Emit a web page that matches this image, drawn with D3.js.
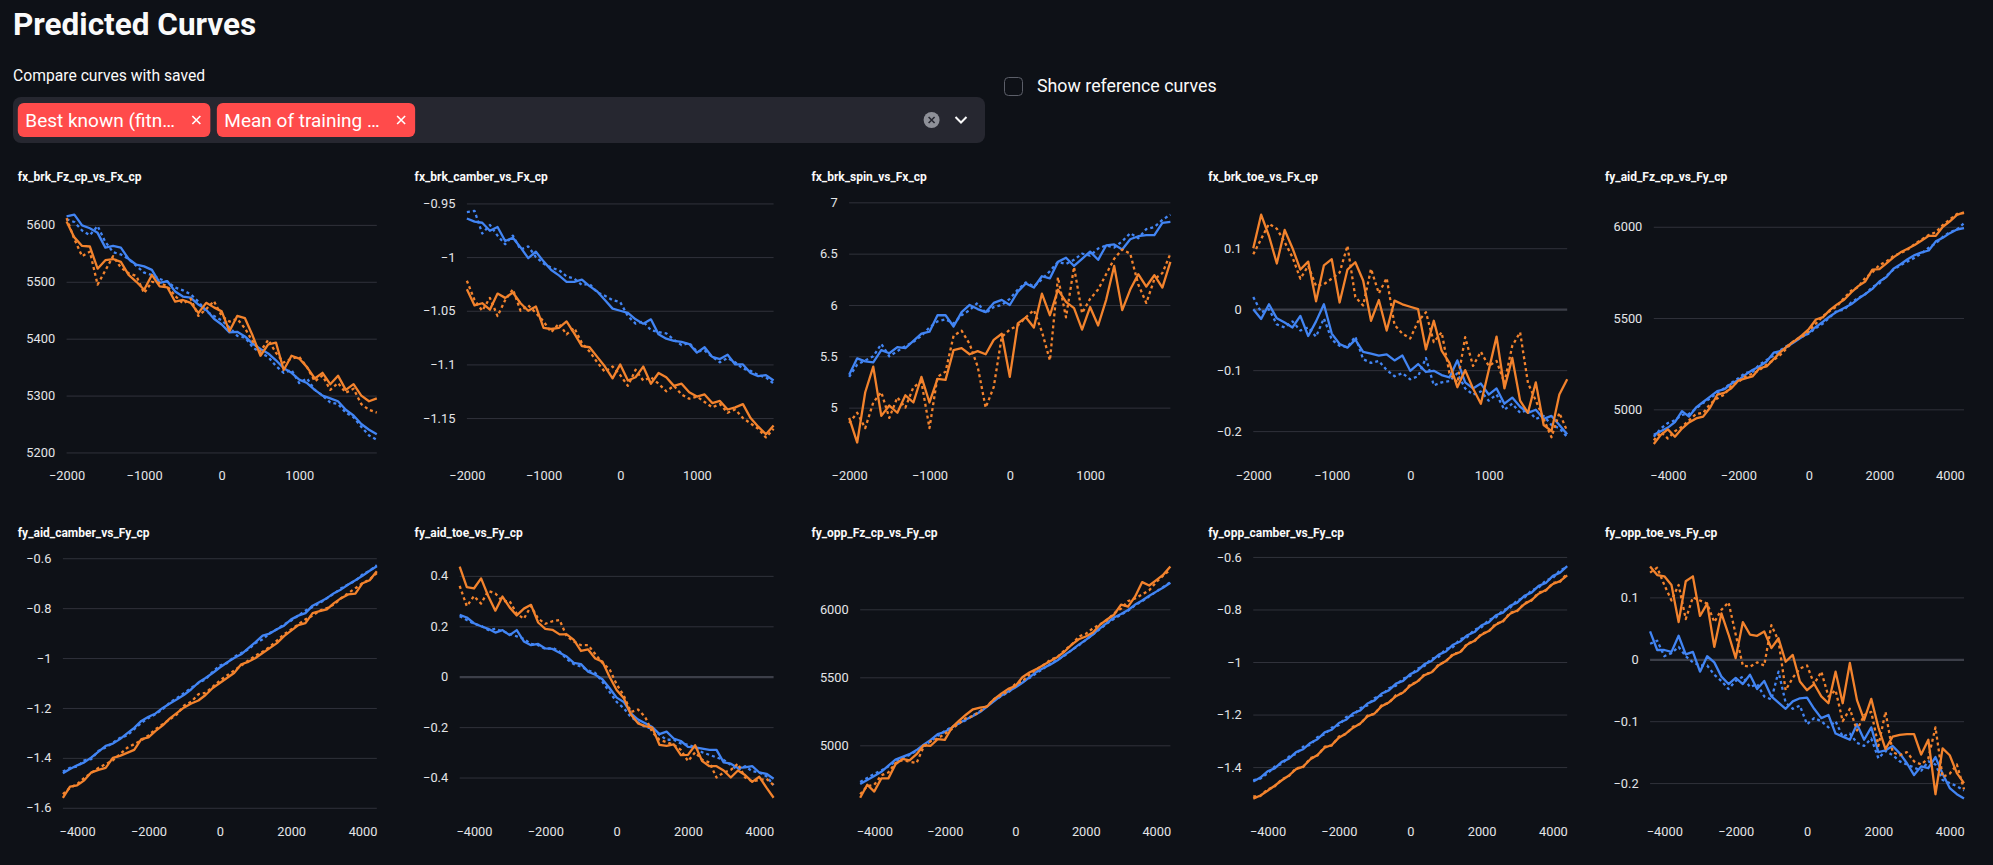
<!DOCTYPE html>
<html>
<head>
<meta charset="utf-8">
<script src="https://cdn.jsdelivr.net/npm/d3@7"></script>
<style>
html, body { margin: 0; padding: 0; background: #0e1117; }
svg { display: block; }
</style>
</head>
<body>
<svg id="page" width="1993" height="865"></svg>
<script>
// ---- data ----
const xsFx = [-2000, -1900, -1800, -1700, -1600, -1500, -1400, -1300, -1200, -1100, -1000,
  -900, -800, -700, -600, -500, -400, -300, -200, -100, 0,
  100, 200, 300, 400, 500, 600, 700, 800, 900, 1000,
  1100, 1200, 1300, 1400, 1500, 1600, 1700, 1800, 1900, 2000];
const xsFy = [-4400, -4200, -4000, -3800, -3600, -3400, -3200, -3000, -2800,
  -2600, -2400, -2200, -2000, -1800, -1600, -1400, -1200, -1000,
  -800, -600, -400, -200, 0, 200, 400, 600, 800,
  1000, 1200, 1400, 1600, 1800, 2000, 2200, 2400, 2600,
  2800, 3000, 3200, 3400, 3600, 3800, 4000, 4200, 4400];
const fxTicks = [-2000, -1000, 0, 1000];
const fyTicks = [-4000, -2000, 0, 2000, 4000];

const savedSelections = ["Best known (fitn\u2026", "Mean of training \u2026"];

// fx_brk_Fz_cp_vs_Fx_cp
const fzBrkBlue = [5615, 5618, 5599, 5594, 5586, 5560, 5563, 5560, 5540, 5530, 5527,
  5521, 5498, 5501, 5483, 5474, 5472, 5460, 5451, 5435, 5425,
  5411, 5412, 5404, 5391, 5382, 5374, 5362, 5348, 5340, 5328,
  5322, 5310, 5300, 5295, 5290, 5275, 5265, 5250, 5240, 5232];
const fzBrkBlueDot = [5610, 5605, 5590, 5582, 5598, 5570, 5552, 5548, 5540, 5528, 5516,
  5512, 5505, 5500, 5490, 5485, 5478, 5465, 5448, 5440, 5432,
  5420, 5405, 5402, 5385, 5375, 5368, 5352, 5340, 5345, 5322,
  5330, 5310, 5300, 5288, 5285, 5270, 5262, 5245, 5230, 5222];
const fzBrkOrange = [5606, 5578, 5563, 5562, 5523, 5538, 5540, 5535, 5512, 5500, 5486,
  5512, 5492, 5490, 5465, 5468, 5463, 5445, 5463, 5455, 5448,
  5413, 5440, 5436, 5405, 5370, 5390, 5393, 5345, 5370, 5365,
  5350, 5330, 5340, 5320, 5335, 5310, 5320, 5300, 5290, 5295];
const fzBrkOrangeDot = [5612, 5575, 5545, 5553, 5495, 5520, 5545, 5525, 5515, 5510, 5480,
  5500, 5498, 5492, 5475, 5462, 5470, 5440, 5452, 5466, 5440,
  5430, 5435, 5418, 5395, 5378, 5398, 5375, 5358, 5365, 5368,
  5350, 5325, 5335, 5310, 5322, 5305, 5312, 5285, 5275, 5270];

// fx_brk_camber_vs_Fx_cp
const camBrkBlue = [-0.964, -0.967, -0.968, -0.9755, -0.972, -0.985, -0.982, -0.991, -1.001, -0.995, -1.004,
  -1.012, -1.017, -1.023, -1.023, -1.021, -1.027, -1.032, -1.040, -1.048, -1.050,
  -1.052, -1.058, -1.062, -1.058, -1.072, -1.076, -1.078, -1.079, -1.081, -1.089,
  -1.084, -1.093, -1.095, -1.091, -1.100, -1.100, -1.108, -1.111, -1.110, -1.115];
const camBrkBlueDot = [-0.958, -0.957, -0.978, -0.970, -0.980, -0.988, -0.980, -0.993, -0.990, -1.000, -1.006,
  -1.010, -1.012, -1.018, -1.020, -1.026, -1.025, -1.033, -1.036, -1.040, -1.042,
  -1.055, -1.062, -1.060, -1.068, -1.070, -1.071, -1.077, -1.082, -1.080, -1.088,
  -1.087, -1.093, -1.098, -1.094, -1.098, -1.104, -1.106, -1.110, -1.112, -1.118];
const camBrkOrange = [-1.030, -1.045, -1.043, -1.049, -1.034, -1.038, -1.033, -1.043, -1.050, -1.046, -1.066,
  -1.067, -1.066, -1.060, -1.071, -1.083, -1.084, -1.093, -1.102, -1.113, -1.100,
  -1.115, -1.112, -1.102, -1.118, -1.108, -1.112, -1.120, -1.118, -1.126, -1.130,
  -1.128, -1.136, -1.134, -1.142, -1.140, -1.137, -1.150, -1.158, -1.165, -1.157];
const camBrkOrangeDot = [-1.022, -1.040, -1.050, -1.038, -1.055, -1.040, -1.030, -1.050, -1.045, -1.052, -1.060,
  -1.070, -1.062, -1.072, -1.066, -1.080, -1.088, -1.098, -1.107, -1.102, -1.110,
  -1.120, -1.105, -1.115, -1.112, -1.118, -1.125, -1.120, -1.128, -1.132, -1.130,
  -1.135, -1.140, -1.137, -1.145, -1.142, -1.150, -1.155, -1.160, -1.168, -1.160];

// fx_brk_spin_vs_Fx_cp
const spinBrkBlue = [5.32, 5.48, 5.45, 5.44, 5.56, 5.53, 5.59, 5.58, 5.65, 5.72, 5.74,
  5.90, 5.90, 5.79, 5.93, 6.00, 5.96, 5.93, 6.02, 6.05, 6.00,
  6.13, 6.21, 6.17, 6.28, 6.26, 6.42, 6.46, 6.38, 6.45, 6.52,
  6.44, 6.58, 6.59, 6.54, 6.64, 6.67, 6.68, 6.68, 6.80, 6.81];
const spinBrkBlueDot = [5.30, 5.42, 5.46, 5.50, 5.62, 5.50, 5.55, 5.60, 5.64, 5.70, 5.78,
  5.84, 5.86, 5.82, 5.90, 5.95, 6.02, 5.92, 5.98, 6.00, 6.06,
  6.15, 6.22, 6.18, 6.25, 6.33, 6.42, 6.40, 6.44, 6.50, 6.48,
  6.55, 6.58, 6.56, 6.62, 6.70, 6.65, 6.74, 6.76, 6.83, 6.88];
const spinBrkOrange = [4.90, 4.66, 5.15, 5.40, 4.92, 5.02, 4.95, 5.12, 5.05, 5.30, 5.05,
  5.28, 5.27, 5.56, 5.58, 5.52, 5.55, 5.52, 5.66, 5.72, 5.30,
  5.82, 5.88, 5.78, 6.11, 5.90, 6.15, 6.03, 5.97, 5.76, 5.98,
  5.80, 6.05, 6.38, 5.95, 6.15, 6.30, 6.18, 6.29, 6.17, 6.42];
const spinBrkOrangeDot = [4.85, 4.95, 4.80, 5.05, 5.15, 4.90, 5.10, 5.00, 5.20, 5.25, 4.80,
  5.30, 5.35, 5.70, 5.75, 5.62, 5.40, 5.00, 5.20, 5.69, 5.76,
  5.80, 5.88, 5.95, 5.74, 5.46, 6.27, 5.88, 6.37, 5.92, 6.06,
  6.15, 6.30, 6.45, 6.54, 6.50, 6.20, 6.02, 6.25, 6.31, 6.50];

// fx_brk_toe_vs_Fx_cp
const toeBrkBlue = [0.0, -0.016, 0.008, -0.015, -0.022, -0.03, -0.011, -0.044, -0.02, 0.008, -0.04,
  -0.057, -0.063, -0.05, -0.07, -0.073, -0.076, -0.074, -0.084, -0.076, -0.101,
  -0.09, -0.103, -0.101, -0.108, -0.112, -0.084, -0.12, -0.13, -0.122, -0.14,
  -0.13, -0.155, -0.145, -0.16, -0.17, -0.165, -0.18, -0.175, -0.19, -0.205];
const toeBrkBlueDot = [0.02, -0.005, 0.0, -0.025, -0.03, -0.02, -0.035, -0.03, -0.045, -0.015, -0.05,
  -0.06, -0.062, -0.045, -0.082, -0.088, -0.085, -0.1, -0.11, -0.105, -0.115,
  -0.11, -0.08, -0.125, -0.12, -0.118, -0.105, -0.13, -0.14, -0.135, -0.15,
  -0.14, -0.165, -0.155, -0.17, -0.165, -0.18, -0.175, -0.19, -0.195, -0.21];
const toeBrkOrange = [0.10, 0.155, 0.12, 0.075, 0.13, 0.10, 0.065, 0.078, 0.013, 0.072, 0.082,
  0.011, 0.065, 0.077, 0.047, -0.019, 0.015, -0.035, 0.014, 0.008, 0.004,
  0.0, -0.066, -0.019, -0.068, -0.088, -0.128, -0.10, -0.13, -0.155, -0.10,
  -0.045, -0.13, -0.08, -0.15, -0.17, -0.12, -0.19, -0.2, -0.14, -0.115];
const toeBrkOrangeDot = [0.09, 0.115, 0.14, 0.132, 0.11, 0.085, 0.05, 0.071, 0.038, 0.041, 0.05,
  0.06, 0.104, 0.02, 0.006, 0.066, 0.026, 0.051, -0.026, -0.04, -0.048,
  -0.02, -0.005, -0.054, -0.038, -0.105, -0.121, -0.046, -0.093, -0.07, -0.093,
  -0.085, -0.121, -0.06, -0.038, -0.121, -0.15, -0.18, -0.21, -0.17, -0.2];

// fy_aid_Fz_cp_vs_Fy_cp
const fzAidBlue = [4860, 4880, 4900, 4930, 4990, 4960, 5010, 5040, 5070,
  5100, 5110, 5140, 5160, 5190, 5215, 5235, 5262, 5310,
  5320, 5345, 5370, 5396, 5420, 5452, 5480, 5510, 5535,
  5555, 5575, 5605, 5632, 5660, 5700, 5725, 5770, 5795,
  5822, 5845, 5860, 5870, 5920, 5940, 5965, 5985, 5992];
const fzAidBlueDot = [4850, 4895, 4925, 4940, 4970, 4975, 5005, 5035, 5060,
  5090, 5115, 5145, 5170, 5200, 5205, 5245, 5270, 5295,
  5325, 5350, 5375, 5400, 5415, 5445, 5470, 5505, 5540,
  5545, 5585, 5610, 5630, 5670, 5690, 5730, 5765, 5790,
  5810, 5830, 5855, 5885, 5910, 5945, 5970, 5985, 6020];
const fzAidOrange = [4810, 4860, 4890, 4850, 4895, 4928, 4950, 4960, 5010,
  5080, 5090, 5115, 5158, 5170, 5180, 5225, 5235, 5275,
  5315, 5348, 5375, 5405, 5440, 5492, 5505, 5545, 5575,
  5600, 5640, 5675, 5700, 5765, 5768, 5800, 5832, 5860,
  5880, 5900, 5925, 5950, 5950, 6000, 6030, 6065, 6079];
const fzAidOrangeDot = [4830, 4875, 4840, 4880, 4905, 4940, 4975, 4980, 5030,
  5060, 5080, 5130, 5150, 5180, 5195, 5215, 5245, 5270,
  5300, 5340, 5380, 5395, 5430, 5470, 5510, 5540, 5565,
  5610, 5650, 5670, 5720, 5750, 5790, 5810, 5840, 5855,
  5875, 5905, 5930, 5955, 5970, 6010, 6040, 6070, 6075];

// fy_aid_camber_vs_Fy_cp
const camAidBlue = [-1.462, -1.445, -1.43, -1.418, -1.398, -1.375, -1.352, -1.343, -1.325,
  -1.302, -1.28, -1.252, -1.235, -1.222, -1.2, -1.182, -1.165, -1.147,
  -1.125, -1.098, -1.08, -1.06, -1.038, -1.018, -1.0, -0.985, -0.96,
  -0.936, -0.91, -0.902, -0.885, -0.87, -0.845, -0.83, -0.82, -0.79,
  -0.775, -0.76, -0.74, -0.725, -0.705, -0.688, -0.67, -0.65, -0.632];
const camAidBlueDot = [-1.455, -1.44, -1.435, -1.41, -1.405, -1.372, -1.358, -1.34, -1.32,
  -1.31, -1.285, -1.26, -1.24, -1.225, -1.205, -1.178, -1.16, -1.14,
  -1.12, -1.1, -1.085, -1.055, -1.03, -1.02, -0.995, -0.98, -0.965,
  -0.94, -0.925, -0.9, -0.885, -0.865, -0.85, -0.83, -0.81, -0.795,
  -0.78, -0.76, -0.742, -0.72, -0.705, -0.69, -0.665, -0.65, -0.628];
const camAidOrange = [-1.56, -1.515, -1.51, -1.49, -1.458, -1.448, -1.44, -1.40, -1.392,
  -1.38, -1.368, -1.325, -1.318, -1.292, -1.27, -1.242, -1.22, -1.198,
  -1.182, -1.17, -1.148, -1.12, -1.1, -1.08, -1.06, -1.025, -1.015,
  -1.0, -0.98, -0.96, -0.94, -0.912, -0.89, -0.868, -0.86, -0.82,
  -0.812, -0.805, -0.78, -0.76, -0.745, -0.742, -0.70, -0.688, -0.652];
const camAidOrangeDot = [-1.545, -1.52, -1.505, -1.48, -1.46, -1.44, -1.425, -1.41, -1.385,
  -1.36, -1.345, -1.33, -1.31, -1.285, -1.265, -1.245, -1.225, -1.19,
  -1.175, -1.145, -1.14, -1.115, -1.09, -1.07, -1.05, -1.03, -1.01,
  -0.99, -0.975, -0.955, -0.93, -0.905, -0.885, -0.865, -0.845, -0.83,
  -0.81, -0.8, -0.785, -0.76, -0.74, -0.72, -0.7, -0.685, -0.66];

// fy_aid_toe_vs_Fy_cp
const toeAidBlue = [0.245, 0.235, 0.212, 0.2, 0.19, 0.175, 0.185, 0.165, 0.185,
  0.14, 0.125, 0.13, 0.112, 0.11, 0.095, 0.08, 0.055, 0.05,
  0.02, 0.008, -0.01, -0.045, -0.083, -0.1, -0.145, -0.17, -0.185,
  -0.2, -0.228, -0.218, -0.245, -0.255, -0.278, -0.28, -0.285, -0.29,
  -0.29, -0.34, -0.345, -0.362, -0.36, -0.355, -0.38, -0.385, -0.405];
const toeAidBlueDot = [0.24, 0.225, 0.21, 0.202, 0.185, 0.19, 0.18, 0.17, 0.16,
  0.15, 0.13, 0.125, 0.11, 0.115, 0.1, 0.07, 0.05, 0.04,
  0.025, 0.015, -0.02, -0.06, -0.1, -0.125, -0.16, -0.18, -0.2,
  -0.205, -0.23, -0.25, -0.25, -0.265, -0.27, -0.28, -0.3, -0.31,
  -0.32, -0.33, -0.35, -0.37, -0.355, -0.375, -0.38, -0.395, -0.43];
const toeAidOrange = [0.437, 0.355, 0.35, 0.39, 0.32, 0.262, 0.318, 0.275, 0.243,
  0.27, 0.285, 0.215, 0.19, 0.186, 0.168, 0.168, 0.146, 0.102,
  0.108, 0.072, 0.06, 0.0, -0.053, -0.085, -0.15, -0.185, -0.196,
  -0.202, -0.27, -0.274, -0.268, -0.311, -0.31, -0.272, -0.335, -0.355,
  -0.355, -0.372, -0.4, -0.372, -0.39, -0.417, -0.397, -0.44, -0.48];
const toeAidOrangeDot = [0.36, 0.28, 0.32, 0.29, 0.34, 0.33, 0.3, 0.3, 0.25,
  0.23, 0.28, 0.23, 0.21, 0.22, 0.225, 0.16, 0.14, 0.125,
  0.125, 0.09, 0.055, 0.03, -0.03, -0.075, -0.14, -0.13, -0.16,
  -0.22, -0.25, -0.26, -0.27, -0.29, -0.335, -0.3, -0.33, -0.34,
  -0.4, -0.38, -0.37, -0.345, -0.4, -0.415, -0.41, -0.405, -0.43];

// fy_opp_Fz_cp_vs_Fy_cp
const fzOppBlue = [4715, 4745, 4775, 4805, 4850, 4895, 4915, 4935, 4965,
  5005, 5040, 5082, 5098, 5130, 5162, 5190, 5215, 5245,
  5285, 5325, 5365, 5395, 5425, 5460, 5500, 5540, 5568,
  5595, 5625, 5665, 5700, 5740, 5775, 5815, 5860, 5900,
  5940, 5965, 5995, 6035, 6065, 6100, 6130, 6160, 6195];
const fzOppBlueDot = [4730, 4760, 4790, 4815, 4845, 4880, 4905, 4930, 4960,
  4995, 5030, 5070, 5105, 5135, 5160, 5185, 5220, 5250,
  5290, 5330, 5360, 5390, 5430, 5465, 5495, 5530, 5565,
  5600, 5630, 5660, 5700, 5735, 5775, 5815, 5855, 5895,
  5930, 5960, 5990, 6030, 6060, 6095, 6130, 6165, 6200];
const fzOppOrange = [4615, 4710, 4660, 4757, 4757, 4860, 4900, 4890, 4935,
  5000, 4997, 5045, 5040, 5130, 5180, 5225, 5265, 5277,
  5285, 5340, 5380, 5415, 5435, 5500, 5535, 5560, 5590,
  5620, 5650, 5690, 5740, 5780, 5800, 5830, 5885, 5925,
  5960, 6035, 6020, 6095, 6200, 6175, 6215, 6255, 6314];
const fzOppOrangeDot = [4640, 4700, 4710, 4780, 4800, 4870, 4890, 4880, 4870,
  4990, 5030, 5050, 5085, 5120, 5160, 5200, 5215, 5250,
  5290, 5340, 5370, 5400, 5450, 5470, 5520, 5560, 5590,
  5630, 5650, 5700, 5740, 5800, 5820, 5860, 5890, 5920,
  5970, 6005, 6060, 6080, 6110, 6140, 6200, 6250, 6290];

// fy_opp_camber_vs_Fy_cp
const camOppBlue = [-1.455, -1.440, -1.416, -1.405, -1.380, -1.368, -1.343, -1.332, -1.308,
  -1.294, -1.268, -1.258, -1.232, -1.220, -1.195, -1.184, -1.158, -1.146,
  -1.120, -1.108, -1.082, -1.072, -1.046, -1.034, -1.008, -0.996, -0.972,
  -0.960, -0.934, -0.922, -0.898, -0.886, -0.860, -0.849, -0.822, -0.812,
  -0.786, -0.774, -0.748, -0.736, -0.710, -0.699, -0.672, -0.660, -0.635];
const camOppBlueDot = [-1.450, -1.444, -1.424, -1.398, -1.388, -1.360, -1.350, -1.322, -1.315,
  -1.286, -1.275, -1.250, -1.240, -1.210, -1.203, -1.175, -1.165, -1.137,
  -1.127, -1.100, -1.090, -1.063, -1.053, -1.025, -1.015, -0.987, -0.980,
  -0.950, -0.943, -0.913, -0.905, -0.877, -0.867, -0.840, -0.830, -0.803,
  -0.793, -0.765, -0.755, -0.727, -0.717, -0.690, -0.680, -0.650, -0.640];
const camOppOrange = [-1.520, -1.508, -1.490, -1.471, -1.450, -1.432, -1.408, -1.398, -1.370,
  -1.354, -1.326, -1.316, -1.288, -1.272, -1.250, -1.234, -1.207, -1.196,
  -1.168, -1.154, -1.130, -1.116, -1.090, -1.074, -1.050, -1.039, -1.012,
  -0.996, -0.973, -0.962, -0.933, -0.919, -0.896, -0.882, -0.858, -0.844,
  -0.816, -0.804, -0.780, -0.764, -0.740, -0.726, -0.703, -0.692, -0.670];
const camOppOrangeDot = [-1.512, -1.510, -1.485, -1.474, -1.446, -1.434, -1.404, -1.400, -1.366,
  -1.356, -1.322, -1.318, -1.284, -1.274, -1.246, -1.236, -1.204, -1.198,
  -1.164, -1.156, -1.126, -1.118, -1.086, -1.076, -1.046, -1.040, -1.009,
  -0.998, -0.969, -0.964, -0.929, -0.921, -0.892, -0.884, -0.854, -0.846,
  -0.812, -0.806, -0.776, -0.766, -0.736, -0.728, -0.699, -0.694, -0.662];

// fy_opp_toe_vs_Fy_cp
const toeOppBlue = [0.045, 0.015, 0.015, 0.012, 0.038, 0.008, 0.012, -0.02, 0.005,
  -0.005, -0.028, -0.04, -0.03, -0.04, -0.025, -0.048, -0.035, -0.06,
  -0.07, -0.08, -0.068, -0.063, -0.062, -0.08, -0.095, -0.09, -0.12,
  -0.125, -0.13, -0.105, -0.13, -0.11, -0.15, -0.147, -0.14, -0.152,
  -0.168, -0.187, -0.173, -0.176, -0.158, -0.185, -0.208, -0.218, -0.225];
const toeOppBlueDot = [0.025, 0.03, 0.005, 0.01, 0.02, 0.005, -0.005, -0.01, -0.01,
  -0.025, -0.035, -0.048, -0.035, -0.028, -0.045, -0.04, -0.06, -0.065,
  -0.02, -0.07, -0.08, -0.075, -0.105, -0.095, -0.1, -0.11, -0.1,
  -0.125, -0.12, -0.135, -0.14, -0.128, -0.16, -0.148, -0.155, -0.165,
  -0.17, -0.175, -0.18, -0.165, -0.17, -0.195, -0.2, -0.205, -0.212];
const toeOppOrange = [0.15, 0.136, 0.134, 0.12, 0.06, 0.126, 0.134, 0.07, 0.09,
  0.02, 0.074, 0.04, 0.002, 0.06, 0.04, 0.038, 0.045, 0.018,
  0.034, -0.004, 0.007, -0.036, -0.05, -0.04, -0.06, -0.071, -0.02,
  -0.071, -0.006, -0.066, -0.098, -0.064, -0.11, -0.145, -0.125, -0.122,
  -0.121, -0.121, -0.154, -0.13, -0.218, -0.144, -0.155, -0.184, -0.2];
const toeOppOrangeDot = [0.14, 0.148, 0.12, 0.095, 0.12, 0.065, 0.1, 0.095, 0.09,
  0.06, 0.08, 0.092, 0.04, -0.01, -0.012, -0.005, -0.01, 0.055,
  0.03, -0.05, -0.03, -0.015, -0.01, -0.04, -0.02, -0.06, -0.05,
  -0.1, -0.08, -0.115, -0.09, -0.085, -0.14, -0.085, -0.15, -0.155,
  -0.15, -0.165, -0.17, -0.16, -0.11, -0.19, -0.185, -0.17, -0.21];

// ---- panel table built from the arrays above ----
const panels = [
  { title: "fx_brk_Fz_cp_vs_Fx_cp", xs: xsFx, xTicks: fxTicks, yTicks: [5200, 5300, 5400, 5500, 5600], yDomain: [5185, 5649],
    series: [fzBrkBlue, fzBrkBlueDot, fzBrkOrange, fzBrkOrangeDot] },
  { title: "fx_brk_camber_vs_Fx_cp", xs: xsFx, xTicks: fxTicks, yTicks: [-1.15, -1.1, -1.05, -1, -0.95], yDomain: [-1.19, -0.944],
    series: [camBrkBlue, camBrkBlueDot, camBrkOrange, camBrkOrangeDot] },
  { title: "fx_brk_spin_vs_Fx_cp", xs: xsFx, xTicks: fxTicks, yTicks: [5, 5.5, 6, 6.5, 7], yDomain: [4.48, 7.052],
    series: [spinBrkBlue, spinBrkBlueDot, spinBrkOrange, spinBrkOrangeDot] },
  { title: "fx_brk_toe_vs_Fx_cp", xs: xsFx, xTicks: fxTicks, yTicks: [-0.2, -0.1, 0, 0.1], yDomain: [-0.249, 0.184],
    series: [toeBrkBlue, toeBrkBlueDot, toeBrkOrange, toeBrkOrangeDot] },
  { title: "fy_aid_Fz_cp_vs_Fy_cp", xs: xsFy, xTicks: fyTicks, yTicks: [5000, 5500, 6000], yDomain: [4717, 6163],
    series: [fzAidBlue, fzAidBlueDot, fzAidOrange, fzAidOrangeDot] },
  { title: "fy_aid_camber_vs_Fy_cp", xs: xsFy, xTicks: fyTicks, yTicks: [-1.6, -1.4, -1.2, -1, -0.8, -0.6], yDomain: [-1.637, -0.579],
    series: [camAidBlue, camAidBlueDot, camAidOrange, camAidOrangeDot] },
  { title: "fy_aid_toe_vs_Fy_cp", xs: xsFy, xTicks: fyTicks, yTicks: [-0.4, -0.2, 0, 0.2, 0.4], yDomain: [-0.5565, 0.4907],
    series: [toeAidBlue, toeAidBlueDot, toeAidOrange, toeAidOrangeDot] },
  { title: "fy_opp_Fz_cp_vs_Fy_cp", xs: xsFy, xTicks: fyTicks, yTicks: [5000, 5500, 6000], yDomain: [4473, 6414],
    series: [fzOppBlue, fzOppBlueDot, fzOppOrange, fzOppOrangeDot] },
  { title: "fy_opp_camber_vs_Fy_cp", xs: xsFy, xTicks: fyTicks, yTicks: [-1.4, -1.2, -1, -0.8, -0.6], yDomain: [-1.59, -0.585],
    series: [camOppBlue, camOppBlueDot, camOppOrange, camOppOrangeDot] },
  { title: "fy_opp_toe_vs_Fy_cp", xs: xsFy, xTicks: fyTicks, yTicks: [-0.2, -0.1, 0, 0.1], yDomain: [-0.2548, 0.1717],
    series: [toeOppBlue, toeOppBlueDot, toeOppOrange, toeOppOrangeDot] }
];

// ---- drawing ----
const FONT = "'Source Sans Pro', Roboto, sans-serif";
const TEXT = "#fafafa";
const lineColors = ["#4285f4", "#4285f4", "#f3832d", "#f3832d"];
const lineDash = [null, "3,3", null, "3,3"];

const svg = d3.select("#page");
svg.append("rect").attr("width", 1993).attr("height", 865).attr("fill", "#0e1117");

// header
svg.append("text")
  .attr("x", 13).attr("y", 35)
  .attr("font-family", FONT).attr("font-size", 31.5).attr("font-weight", 700)
  .attr("fill", TEXT)
  .text("Predicted Curves");

svg.append("text")
  .attr("x", 13).attr("y", 81)
  .attr("font-family", FONT).attr("font-size", 15.7)
  .attr("fill", TEXT)
  .text("Compare curves with saved");

svg.append("rect")
  .attr("x", 13).attr("y", 97).attr("width", 972).attr("height", 46)
  .attr("rx", 8).attr("fill", "#262730");

let tagX = 17.8;
savedSelections.forEach(label => {
  const g = svg.append("g");
  const bg = g.append("rect").attr("y", 103).attr("height", 34).attr("rx", 6).attr("fill", "#ff4b4b");
  const t = g.append("text")
    .attr("x", tagX + 7.5).attr("y", 126.5)
    .attr("font-family", FONT).attr("font-size", 19)
    .attr("fill", "#ffffff").text(label);
  const tw = t.node().getComputedTextLength();
  const w = tw + 43;
  bg.attr("x", tagX).attr("width", w);
  const cx = tagX + w - 14, cy = 120;
  g.append("path")
    .attr("d", `M${cx - 4},${cy - 4}L${cx + 4},${cy + 4}M${cx + 4},${cy - 4}L${cx - 4},${cy + 4}`)
    .attr("stroke", "#ffffff").attr("stroke-width", 1.6);
  tagX += w + 6.5;
});

// clear button and chevron
svg.append("circle").attr("cx", 931.6).attr("cy", 120).attr("r", 8).attr("fill", "#8e9098");
svg.append("path")
  .attr("d", "M928.6,117L934.6,123M934.6,117L928.6,123")
  .attr("stroke", "#262730").attr("stroke-width", 1.6);
svg.append("path")
  .attr("d", "M955.5,117L961,122.5L966.5,117")
  .attr("fill", "none").attr("stroke", TEXT).attr("stroke-width", 2);

// checkbox
svg.append("rect")
  .attr("x", 1004.5).attr("y", 77.5).attr("width", 18).attr("height", 18).attr("rx", 4)
  .attr("fill", "#0e1117").attr("stroke", "#5c5f69").attr("stroke-width", 1);
svg.append("text")
  .attr("x", 1037).attr("y", 92)
  .attr("font-family", FONT).attr("font-size", 17.8)
  .attr("fill", TEXT).text("Show reference curves");

// small multiples
const fmt = v => (v < 0 ? "\u2212" : "") + String(+Math.abs(v).toFixed(4));
const rows = [
  { titleY: 181, top: 197, bottom: 461 },
  { titleY: 537, top: 553, bottom: 817 }
];

panels.forEach((p, i) => {
  const row = rows[Math.floor(i / 5)];
  const left = 17.8 + (i % 5) * 396.8;
  const right = left + 359;
  const g = svg.append("g");

  g.append("text")
    .attr("x", left).attr("y", row.titleY)
    .attr("font-family", FONT).attr("font-size", 12).attr("font-weight", 700)
    .attr("fill", TEXT).text(p.title);

  // measure widest y label to place the plot's left edge
  const probe = g.append("g").attr("font-family", FONT).attr("font-size", 12.8);
  let maxW = 0;
  p.yTicks.forEach(v => {
    const t = probe.append("text").text(fmt(v));
    maxW = Math.max(maxW, t.node().getComputedTextLength());
  });
  probe.remove();
  const plotLeft = left + 8.5 + maxW + 11.5;

  const x = d3.scaleLinear().domain(d3.extent(p.xs)).range([plotLeft, right]);
  const y = d3.scaleLinear().domain(p.yDomain).range([row.bottom, row.top]);

  const yAxis = g.append("g")
    .attr("transform", `translate(${plotLeft},0)`)
    .call(d3.axisLeft(y).tickValues(p.yTicks).tickFormat(fmt)
      .tickSize(-(right - plotLeft)).tickPadding(11.5));
  yAxis.select(".domain").remove();
  yAxis.selectAll(".tick line")
    .attr("stroke", d => d === 0 ? "#3c3f49" : "#30323b")
    .attr("stroke-width", d => d === 0 ? 2.2 : 1);
  yAxis.selectAll(".tick text")
    .attr("font-family", FONT).attr("font-size", 12.8).attr("fill", "#e4e5e8");

  const xAxis = g.append("g")
    .attr("transform", `translate(0,${row.bottom})`)
    .call(d3.axisBottom(x).tickValues(p.xTicks).tickFormat(fmt).tickSize(0).tickPadding(10));
  xAxis.select(".domain").remove();
  xAxis.selectAll(".tick text")
    .attr("font-family", FONT).attr("font-size", 12.8).attr("fill", "#e4e5e8");

  const line = d3.line()
    .x((d, k) => x(p.xs[k]))
    .y(d => y(d));

  p.series.forEach((vals, s) => {
    g.append("path")
      .datum(vals)
      .attr("d", line)
      .attr("fill", "none")
      .attr("stroke", lineColors[s])
      .attr("stroke-width", 2.3)
      .attr("stroke-linejoin", "round")
      .attr("stroke-dasharray", lineDash[s]);
  });
});
</script>
</body>
</html>
